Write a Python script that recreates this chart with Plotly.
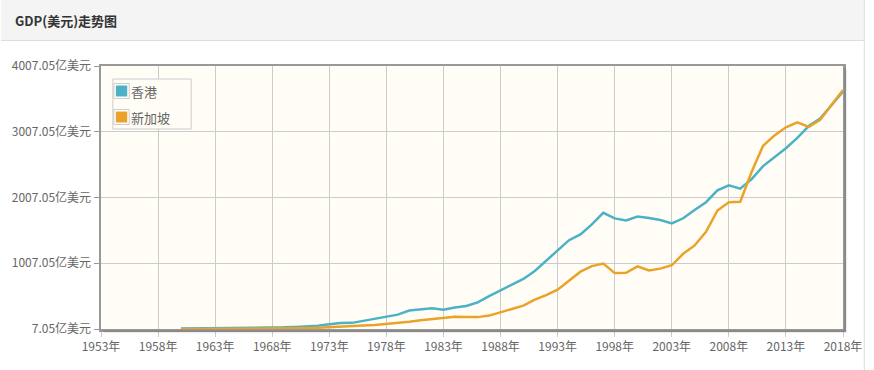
import plotly.graph_objects as go

years = list(range(1960, 2019))
hk_values = [13.2, 14.1, 16.2, 18.6, 20.9, 24.3, 25.6, 26.6, 27.1, 31.9,
             38.0, 44.6, 56.2, 80.3, 96.5, 100.5, 131.1, 156.8, 183.2, 225.2,
             288.6, 310.6, 322.9, 298.5, 335.1, 357.0, 410.8, 506.2, 597.1, 687.9,
             768.8, 889.6, 1042.7, 1203.5, 1358.1, 1446.5, 1597.2, 1773.5, 1688.8, 1657.7,
             1716.7, 1694.0, 1663.5, 1613.8, 1691.0, 1815.7, 1935.4, 2116.0, 2192.8, 2140.5,
             2286.4, 2485.1, 2626.3, 2757.0, 2914.6, 3093.9, 3208.6, 3412.7, 3616.9]
sg_values = [7.0, 7.6, 8.2, 9.2, 8.9, 9.7, 10.9, 12.4, 14.3, 16.6,
             19.2, 22.6, 27.3, 37.0, 52.2, 56.3, 60.7, 66.4, 80.6, 94.9,
             119.0, 141.8, 160.8, 178.7, 192.1, 189.8, 187.8, 211.0, 257.8, 306.0,
             361.4, 454.7, 521.3, 606.0, 736.9, 878.9, 963.0, 1001.2, 857.3, 862.8,
             960.7, 897.9, 925.4, 976.5, 1150.4, 1278.1, 1486.3, 1809.4, 1936.1, 1941.5,
             2398.1, 2793.5, 2950.9, 3075.8, 3148.6, 3080.0, 3187.6, 3418.6, 3641.6]
series_names = ["香港", "新加坡"]
series_colors = ["#4bb2c5", "#eaa228"]

x_tick_vals = list(range(1953, 2019, 5))
x_tick_text = [f"{v}年" for v in x_tick_vals]
y_tick_vals = [7.05, 1007.05, 2007.05, 3007.05, 4007.05]
y_tick_text = [f"{v:.2f}亿美元" for v in y_tick_vals]
title_text = "GDP(美元)走势图"

W, H = 874, 370
L, R, T, B = 101, 850, 66, 329


def px(X):
    return (X - L) / (R - L)


def py(Y):
    return (B - Y) / (B - T)


fig = go.Figure()
for name, vals, col in zip(series_names, [hk_values, sg_values], series_colors):
    fig.add_trace(go.Scatter(x=years, y=vals, mode="lines", name=name,
                             line=dict(color=col, width=2.5), showlegend=False,
                             hoverinfo="skip"))

shapes = []
# title bar
shapes.append(dict(type="rect", xref="paper", yref="paper", x0=px(0), x1=px(871), y0=py(40), y1=py(0),
                   fillcolor="#f4f4f4", line=dict(width=0), layer="below"))
shapes.append(dict(type="line", xref="paper", yref="paper", x0=px(0), x1=px(871), y0=py(40.5), y1=py(40.5),
                   line=dict(color="#dddddd", width=1)))
shapes.append(dict(type="line", xref="paper", yref="paper", x0=px(871.5), x1=px(871.5), y0=py(0), y1=py(370),
                   line=dict(color="#dddddd", width=1)))
# frame shadow
for off, a in [(2, 0.12), (3.5, 0.07)]:
    shapes.append(dict(type="line", xref="paper", yref="paper", x0=px(R + off), x1=px(R + off),
                       y0=py(T + off), y1=py(B + off), line=dict(color=f"rgba(0,0,0,{a})", width=1.5)))
    shapes.append(dict(type="line", xref="paper", yref="paper", x0=px(L + off), x1=px(R + off),
                       y0=py(B + off), y1=py(B + off), line=dict(color=f"rgba(0,0,0,{a})", width=1.5)))
# legend box
shapes.append(dict(type="rect", xref="paper", yref="paper", x0=px(113), x1=px(192), y0=py(129), y1=py(79),
                   fillcolor="#fffdf6", line=dict(color="#cccccc", width=1)))
annotations = []
for i, (name, col) in enumerate(zip(series_names, series_colors)):
    cy = 91 + 26 * i
    shapes.append(dict(type="rect", xref="paper", yref="paper", x0=px(114), x1=px(129.5), y0=py(cy + 7.5), y1=py(cy - 7.5),
                       fillcolor="#ffffff", line=dict(color="#cccccc", width=1)))
    shapes.append(dict(type="rect", xref="paper", yref="paper", x0=px(116), x1=px(127.5), y0=py(cy + 5.5), y1=py(cy - 5.5),
                       fillcolor=col, line=dict(width=0)))
    annotations.append(dict(xref="paper", yref="paper", x=px(129), y=py(cy), text=name, showarrow=False,
                            xanchor="left", yanchor="middle",
                            font=dict(size=13, color="#666666", family="Noto Sans CJK SC")))

annotations.append(dict(xref="paper", yref="paper", x=px(12), y=py(20), text=f"<b>{title_text}</b>",
                        showarrow=False, xanchor="left", yanchor="middle",
                        font=dict(size=13, color="#333333", family="Noto Sans CJK SC")))

fig.update_layout(
    width=W, height=H,
    margin=dict(l=L, r=W - R, t=T, b=H - B, pad=0),
    paper_bgcolor="#ffffff", plot_bgcolor="#fffdf6",
    shapes=shapes, annotations=annotations,
    showlegend=False,
    font=dict(family="Noto Sans CJK SC", size=12, color="#666666"),
)
fig.update_xaxes(range=[1953, 2018], tickvals=x_tick_vals, ticktext=x_tick_text,
                 showgrid=True, gridcolor="#cccccc", gridwidth=1, zeroline=False,
                 showline=True, linecolor="#999999", linewidth=2.5, mirror=True,
                 ticks="outside", ticklen=5, tickcolor="#cccccc",
                 tickfont=dict(size=12, color="#666666"))
fig.update_yaxes(range=[7.05, 4007.05], tickvals=y_tick_vals, ticktext=y_tick_text,
                 showgrid=True, gridcolor="#cccccc", gridwidth=1, zeroline=False,
                 showline=True, linecolor="#999999", linewidth=2.5, mirror=True,
                 ticks="outside", ticklen=5, tickcolor="#999999",
                 tickfont=dict(size=12, color="#666666"))

fig.write_html(
    "out.html",
    config={"displayModeBar": False, "staticPlot": True},
    post_script=(
        "document.documentElement.style.margin='0';"
        "document.documentElement.style.overflow='hidden';"
        "document.body.style.margin='0';"
        "document.body.style.overflow='hidden';"
    ),
)
